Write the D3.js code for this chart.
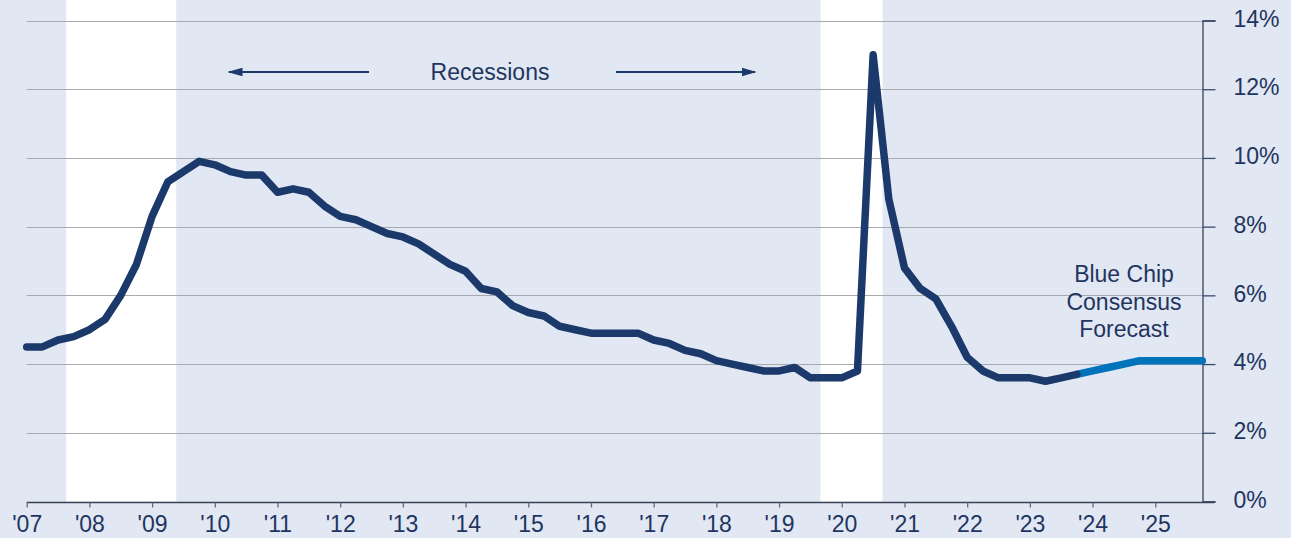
<!DOCTYPE html>
<html>
<head>
<meta charset="utf-8">
<script src="https://cdn.jsdelivr.net/npm/d3@7"></script>
<style>
  body { margin: 0; background: #e1e7f3; }
  svg { display: block; font-family: "Liberation Sans", Arial, sans-serif; }
</style>
</head>
<body>
<svg id="chart"></svg>
<script>
var width = 1291, height = 538

// quarterly unemployment rate (%), first point at start of 2007
var startYear = 2007
var actual = [4.5, 4.5, 4.7, 4.8, 5.0, 5.3, 6.0, 6.9, 8.3, 9.3, 9.6, 9.9,
    9.8, 9.6, 9.5, 9.5, 9.0, 9.1, 9.0, 8.6, 8.3, 8.2, 8.0, 7.8,
    7.7, 7.5, 7.2, 6.9, 6.7, 6.2, 6.1, 5.7, 5.5, 5.4, 5.1, 5.0,
    4.9, 4.9, 4.9, 4.9, 4.7, 4.6, 4.4, 4.3, 4.1, 4.0, 3.9, 3.8,
    3.8, 3.9, 3.6, 3.6, 3.6, 3.8, 13.0, 8.8, 6.8, 6.2, 5.9, 5.1,
    4.2, 3.8, 3.6, 3.6, 3.6, 3.5, 3.6, 3.7]
// Blue Chip consensus forecast, continuing from the last actual quarter
var forecastStart = 2023.75
var forecast = [3.7, 3.8, 3.9, 4.0, 4.1, 4.1, 4.1, 4.1, 4.1]

var recessions = [[2007.63, 2009.385], [2019.66, 2020.65]]
var yearTicks = d3.range(2007, 2026)
var pctTicks = [0, 2, 4, 6, 8, 10, 12, 14]
var forecastLabel = ["Blue Chip", "Consensus", "Forecast"]

var navy = "#1b3a6b", blue = "#0073bb", textCol = "#1f3560"

var svg = d3.select("#chart").attr("width", width).attr("height", height)

var x = d3.scaleLinear().domain([2007, 2025.75]).range([26.7, 1202.3])
var y = d3.scaleLinear().domain([0, 14]).range([501.5, 20.5])

// recession bands
svg.append("g").selectAll("rect")
    .data(recessions)
    .enter()
    .append("rect")
        .attr("x", d => x(d[0]))
        .attr("width", d => x(d[1]) - x(d[0]))
        .attr("y", 0)
        .attr("height", y(0))
        .attr("fill", "#ffffff")

// gridlines
svg.append("g").selectAll("line")
    .data(pctTicks.filter(d => d > 0))
    .enter()
    .append("line")
        .attr("x1", x(2007))
        .attr("x2", x(2025.75))
        .attr("y1", d => Math.round(y(d)) + 0.5)
        .attr("y2", d => Math.round(y(d)) + 0.5)
        .attr("stroke", "#a7a9ae")
        .attr("stroke-width", 1)

// right axis
var yAxis = d3.axisRight(y)
    .tickValues(pctTicks)
    .tickSize(13)
    .tickPadding(18)
    .tickFormat(d => d + "%")
var gy = svg.append("g")
    .attr("transform", "translate(" + (Math.round(x(2025.75)) + 0.5) + ",0)")
    .call(yAxis)
gy.select(".domain").attr("stroke", "#3b4253").attr("stroke-width", 1.3)
gy.selectAll(".tick line").attr("stroke", "#3b4a70").attr("stroke-width", 1.3)
gy.selectAll(".tick text")
    .attr("fill", textCol)
    .attr("font-size", 23)
    .attr("dy", "0.25em")
    .attr("font-family", "Liberation Sans, Arial, sans-serif")

// bottom axis
var xAxis = d3.axisBottom(x)
    .tickValues(yearTicks)
    .tickSize(5)
    .tickSizeOuter(0)
    .tickPadding(7)
    .tickFormat(d => "'" + String(d).slice(2))
var gx = svg.append("g")
    .attr("transform", "translate(0," + (Math.round(y(0)) + 0.5) + ")")
    .call(xAxis)
gx.select(".domain").attr("stroke", "#3b4253").attr("stroke-width", 1.3)
    .attr("d", "M" + x(2007) + ",0H" + (x(2025.75) + 12))
gx.selectAll(".tick line").attr("stroke", "#5a6a8e").attr("stroke-width", 1.3)
gx.selectAll(".tick text")
    .attr("fill", textCol)
    .attr("font-size", 23)
    .attr("dy", "0.78em")
    .attr("font-family", "Liberation Sans, Arial, sans-serif")

// series lines
var line = d3.line()
    .x(d => x(d[0]))
    .y(d => y(d[1]))

var actualPts = actual.map((v, i) => [startYear + i / 4, v])
var forecastPts = forecast.map((v, i) => [forecastStart + i / 4, v])

svg.append("path")
    .datum(forecastPts)
    .attr("d", line)
    .attr("fill", "none")
    .attr("stroke", blue)
    .attr("stroke-width", 7.5)
    .attr("stroke-linecap", "round")
    .attr("stroke-linejoin", "round")

svg.append("path")
    .datum(actualPts)
    .attr("d", line)
    .attr("fill", "none")
    .attr("stroke", navy)
    .attr("stroke-width", 7.5)
    .attr("stroke-linecap", "round")
    .attr("stroke-linejoin", "round")

// recessions annotation
var arrowY = 72
var defs = svg.append("defs")
defs.append("marker")
    .attr("id", "arrow")
    .attr("viewBox", "0 0 10 10")
    .attr("refX", 9)
    .attr("refY", 5)
    .attr("markerWidth", 15)
    .attr("markerHeight", 15)
    .attr("markerUnits", "userSpaceOnUse")
    .attr("orient", "auto")
    .append("path")
        .attr("d", "M0,2.1L10,5L0,7.9Z")
        .attr("fill", navy)

svg.append("line")
    .attr("x1", 369).attr("x2", 229)
    .attr("y1", arrowY).attr("y2", arrowY)
    .attr("stroke", navy).attr("stroke-width", 2)
    .attr("marker-end", "url(#arrow)")
svg.append("line")
    .attr("x1", 616).attr("x2", 755)
    .attr("y1", arrowY).attr("y2", arrowY)
    .attr("stroke", navy).attr("stroke-width", 2)
    .attr("marker-end", "url(#arrow)")

svg.append("text")
    .attr("x", 490)
    .attr("y", arrowY + 8)
    .attr("text-anchor", "middle")
    .attr("font-size", 23)
    .attr("fill", textCol)
    .text("Recessions")

// forecast label
svg.append("text")
    .attr("x", 1124)
    .attr("y", 282)
    .attr("text-anchor", "middle")
    .attr("font-size", 23)
    .attr("fill", textCol)
    .selectAll("tspan")
    .data(forecastLabel)
    .enter()
    .append("tspan")
        .attr("x", 1124)
        .attr("dy", (d, i) => i == 0 ? 0 : 27.5)
        .text(d => d)
</script>
</body>
</html>
